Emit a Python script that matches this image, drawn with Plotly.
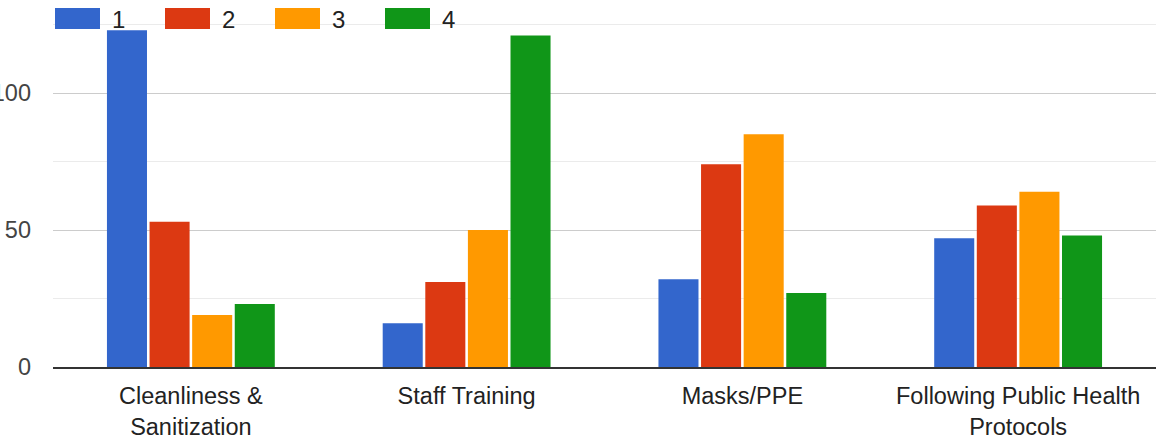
import plotly.graph_objects as go

categories = ["Cleanliness &<br>Sanitization", "Staff Training", "Masks/PPE",
              "Following Public Health<br>Protocols"]
series_names = ["1", "2", "3", "4"]
values_1 = [123, 16, 32, 47]
values_2 = [53, 31, 74, 59]
values_3 = [19, 50, 85, 64]
values_4 = [23, 121, 27, 48]
colors = ["#3366CC", "#DC3912", "#FF9900", "#109618"]
y_ticks = [0, 50, 100]

series_values = [values_1, values_2, values_3, values_4]

FONT = "Liberation Sans, Arial, sans-serif"

fig = go.Figure()
for name, vals, col in zip(series_names, series_values, colors):
    fig.add_trace(go.Bar(x=categories, y=vals, name=name, marker=dict(color=col, line=dict(width=0)),
                         showlegend=False))

# custom legend (large swatches like the reference)
shapes = []
annotations = []
for i, (name, col) in enumerate(zip(series_names, colors)):
    x0 = 2 + 110 * i
    shapes.append(dict(type="rect", xref="paper", yref="paper", xsizemode="pixel", ysizemode="pixel",
                       xanchor=0, yanchor=1, x0=x0, x1=x0 + 45, y0=-8, y1=-29,
                       fillcolor=col, line=dict(width=0), layer="above"))
    annotations.append(dict(xref="paper", yref="paper", x=0, y=1, xanchor="left", yanchor="middle",
                            xshift=x0 + 55, yshift=-19, text=name, showarrow=False,
                            font=dict(family=FONT, size=24, color="#222222")))

fig.update_layout(
    width=1156, height=444,
    margin=dict(l=53, r=0, t=0, b=77, autoexpand=False),
    paper_bgcolor="white", plot_bgcolor="white",
    barmode="group", bargap=0.382, bargroupgap=0.06,
    font=dict(family=FONT, size=23.5, color="#222222"),
    shapes=shapes, annotations=annotations,
    showlegend=False,
)
fig.update_xaxes(automargin=False, showgrid=False, showline=True, linecolor="#333333", linewidth=2,
                 ticks="", ticklabelstandoff=7, tickfont=dict(color="#222222", size=23.5))
fig.update_yaxes(automargin=False, range=[0, 134], tickvals=y_ticks, showgrid=True,
                 gridcolor="#cccccc", gridwidth=1,
                 minor=dict(dtick=25, showgrid=True, gridcolor="#ebebeb", gridwidth=1),
                 zeroline=False, ticks="", ticklabelstandoff=21,
                 tickfont=dict(color="#444444", size=23.5))

fig.write_html("out.html", config={"displayModeBar": False},
               post_script="document.body.style.margin='0';document.body.style.overflow='hidden';")
